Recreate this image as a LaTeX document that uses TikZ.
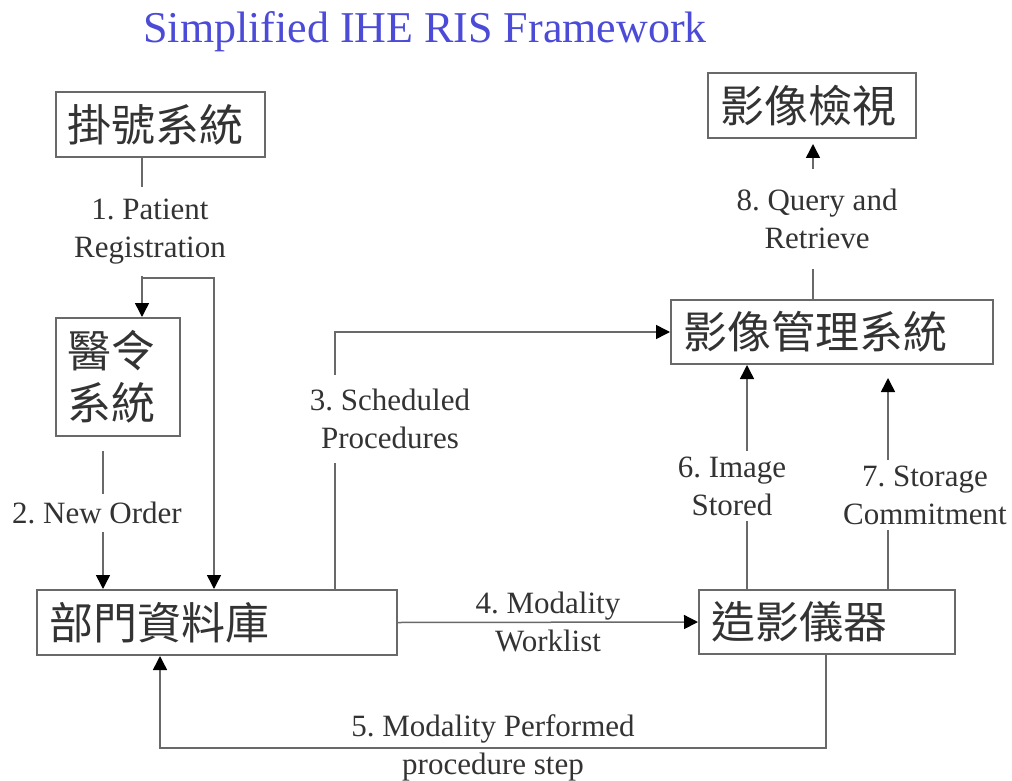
\documentclass[tikz,border=0pt]{standalone}
\usepackage{fontspec}
\setmainfont{Liberation Serif}
\newfontfamily\cjk{Noto Sans CJK TC}
\usetikzlibrary{arrows.meta}
\definecolor{titleblue}{RGB}{75,75,215}
\definecolor{linegray}{RGB}{105,105,105}
\frenchspacing

\begin{document}
\begin{tikzpicture}[x=0.5pt, y=-0.5pt,
    box/.style={draw=linegray, line width=1pt, inner xsep=6pt, inner ysep=0pt, align=left, text=black!80, font=\cjk\fontsize{22}{26}\selectfont},
    lbl/.style={align=center, inner sep=4pt, text=black!80, font=\fontsize{15.5}{19}\selectfont},
    conn/.style={draw=linegray, line width=0.75pt},
    arr/.style={conn, -{Triangle[length=7pt, width=7pt, color=black]}}]
    \useasboundingbox (0,0) rectangle (1012,781);
    \node [text=titleblue, font=\fontsize{22}{26}\selectfont] (title) at (425,32) {Simplified IHE RIS Framework};
    \node [box, text width=92.5pt, minimum height=32.5pt] (reg) at (160.5,124.5) {掛號系統};
    \node [box, text width=50pt, minimum height=59pt] (order) at (118,377) {醫令\\系統};
    \node [box, text width=168pt, minimum height=32.5pt] (dept) at (217,622.5) {部門資料庫};
    \node [box, text width=92pt, minimum height=32.5pt] (view) at (812,105.5) {影像檢視};
    \node [box, text width=149pt, minimum height=32pt] (pacs) at (832,332) {影像管理系統};
    \node [box, text width=116pt, minimum height=32pt] (mod) at (827,622) {造影儀器};
    \coordinate (fork) at (142,278);
    \coordinate (forkR) at (214,278);
    \coordinate (stepR) at (826,748);
    \coordinate (stepL) at (160,748);
    \draw [conn] (reg.south -| fork) -- node [lbl, fill=white, pos=0.61, xshift=4pt, inner ysep=6pt] {1. Patient\\Registration} (fork);
    \draw [arr] (fork) -- (order.north -| fork);
    \draw [arr] (fork) -- (forkR) -- (dept.north -| forkR);
    \draw [arr, shorten <=7pt] ([xshift=-7.5pt]order.south) -- node [lbl, fill=white, xshift=-3pt] {2. New Order} ([xshift=-7.5pt]order.south |- dept.north);
    \draw [arr] (dept.north -| 335,0) |- node [lbl, fill=white, pos=0.33, xshift=27.5pt, inner ysep=7pt] {3. Scheduled\\Procedures} (pacs.west);
    \draw [arr] (dept.east) -- node [lbl] {4. Modality\\Worklist} (mod.west);
    \draw [arr] (mod.south -| stepR) -- (stepR) -- node [lbl] {5. Modality Performed\\procedure step} (stepL) -- (dept.south -| stepL);
    \draw [arr] (mod.north -| 747,0) -- node [lbl, fill=white, pos=0.46, xshift=-7.5pt, inner ysep=3pt] {6. Image\\Stored} (pacs.south -| 747,0);
    \draw [arr, shorten >=6.5pt] (mod.north -| 888,0) -- node [lbl, fill=white, pos=0.42, xshift=18.5pt, inner ysep=3pt] {7. Storage\\Commitment} (pacs.south -| 888,0);
    \draw [arr, shorten >=2.5pt] (pacs.north -| 813,0) -- node [lbl, fill=white, xshift=2pt, inner ysep=10pt] {8. Query and\\Retrieve} (view.south -| 813,0);
\end{tikzpicture}
\end{document}
